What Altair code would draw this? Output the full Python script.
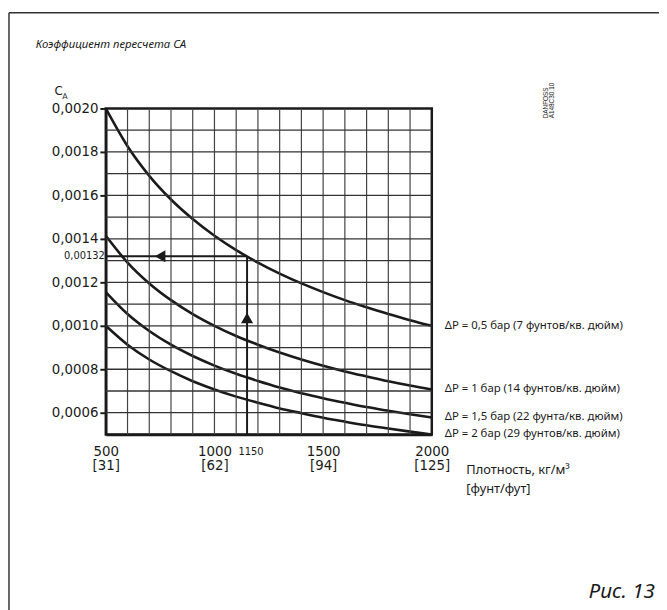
import altair as alt
import pandas as pd

# ---- data ----
density = [500, 600, 700, 800, 900, 1000, 1100, 1200, 1300, 1400, 1500, 1600, 1700, 1800, 1900, 2000]
ca_05 = [0.002000, 0.001826, 0.001690, 0.001581, 0.001491, 0.001414, 0.001348, 0.001291,
         0.001240, 0.001195, 0.001155, 0.001118, 0.001085, 0.001054, 0.001026, 0.001000]
ca_10 = [0.001414, 0.001291, 0.001195, 0.001118, 0.001054, 0.001000, 0.000953, 0.000913,
         0.000877, 0.000845, 0.000816, 0.000790, 0.000767, 0.000745, 0.000725, 0.000707]
ca_15 = [0.001155, 0.001054, 0.000976, 0.000913, 0.000861, 0.000817, 0.000779, 0.000746,
         0.000716, 0.000690, 0.000667, 0.000646, 0.000626, 0.000609, 0.000593, 0.000578]
ca_20 = [0.001000, 0.000913, 0.000845, 0.000791, 0.000745, 0.000707, 0.000674, 0.000646,
         0.000620, 0.000598, 0.000577, 0.000559, 0.000542, 0.000527, 0.000513, 0.000500]
series_names = ["0.5", "1", "1.5", "2"]
series_labels = [
    "\u0394P = 0,5 бар (7 фунтов/кв. дюйм)",
    "\u0394P = 1 бар (14 фунтов/кв. дюйм)",
    "\u0394P = 1,5 бар (22 фунта/кв. дюйм)",
    "\u0394P = 2 бар (29 фунтов/кв. дюйм)",
]
x_tick_values = [500, 1000, 1500, 2000]
x_tick_sub = ["[31]", "[62]", "[94]", "[125]"]
y_tick_values = [0.0006, 0.0008, 0.0010, 0.0012, 0.0014, 0.0016, 0.0018, 0.0020]
grid_x = [600, 700, 800, 900, 1000, 1100, 1200, 1300, 1400, 1500, 1600, 1700, 1800, 1900]
grid_y = [0.0006, 0.0007, 0.0008, 0.0009, 0.0010, 0.0011, 0.0012, 0.0013,
          0.0014, 0.0015, 0.0016, 0.0017, 0.0018, 0.0019]
example_density = 1150
example_ca = 0.00132
arrow_left_x = 750
arrow_up_y = 0.001036

X_DOM = [500, 2000]
Y_DOM = [0.0005, 0.0020]
INK = "#1a1a1a"

rows = []
for name, vals in zip(series_names, [ca_05, ca_10, ca_15, ca_20]):
    for d, v in zip(density, vals):
        rows.append({"density": d, "ca": v, "series": name})
curves_df = pd.DataFrame(rows)

end_df = pd.DataFrame({
    "density": [2000] * 4,
    "ca": [ca_05[-1], ca_10[-1], ca_15[-1], ca_20[-1]],
    "label": series_labels,
})

xs = alt.Scale(domain=X_DOM, nice=False, zero=False)
ys = alt.Scale(domain=Y_DOM, nice=False, zero=False)

x_expr = " : ".join(
    f"datum.value == {v} ? ['{v}', '{s}']" for v, s in zip(x_tick_values, x_tick_sub)
) + " : ''"

x_axis = alt.Axis(values=x_tick_values, labelExpr=x_expr, ticks=False, grid=False,
                  domainColor=INK, domainWidth=2.5, labelFont="DejaVu Sans",
                  labelFontSize=13.5, labelColor=INK, labelPadding=10,
                  labelBaseline="top", labelLineHeight=14, labelFlush=False,
                  labelOverlap=False, title=None)
y_axis = alt.Axis(values=y_tick_values,
                  labelExpr="replace(format(datum.value, '.4f'), '.', ',')",
                  tickSize=6, tickWidth=2, tickColor=INK, grid=False,
                  domainColor=INK, domainWidth=2.5, labelFont="DejaVu Sans",
                  labelFontSize=13.5, labelColor=INK, labelPadding=2,
                  labelOverlap=False, labelFlush=False, title=None)


def X(field):
    return alt.X(field, scale=xs, axis=x_axis)


def Y(field):
    return alt.Y(field, scale=ys, axis=y_axis)


curves = alt.Chart(curves_df).mark_line(color=INK, strokeWidth=2.6, interpolate="monotone").encode(
    x=X("density:Q"), y=Y("ca:Q"), detail="series:N",
)

gx = alt.Chart(pd.DataFrame({"gx": grid_x})).mark_rule(color="#444", strokeWidth=1.2).encode(
    x=X("gx:Q"))
gy = alt.Chart(pd.DataFrame({"gy": grid_y})).mark_rule(color="#333", strokeWidth=1.3).encode(
    y=Y("gy:Q"))

ex_df = pd.DataFrame({"x0": [500], "x1": [example_density], "y0": [Y_DOM[0]], "y1": [example_ca]})
h_rule = alt.Chart(ex_df).mark_rule(color=INK, strokeWidth=2).encode(
    x=X("x0:Q"), x2="x1:Q", y=Y("y1:Q"))
v_rule = alt.Chart(ex_df).mark_rule(color=INK, strokeWidth=2).encode(
    x=X("x1:Q"), y=Y("y0:Q"), y2="y1:Q")

arrows_df = pd.DataFrame({
    "x": [arrow_left_x, example_density],
    "y": [example_ca, arrow_up_y],
    "shape": ["triangle-left", "triangle-up"],
})
arrows = alt.Chart(arrows_df).mark_point(filled=True, color=INK, opacity=1, size=150).encode(
    x=X("x:Q"), y=Y("y:Q"), shape=alt.Shape("shape:N", scale=None))

val_lbl = alt.Chart(pd.DataFrame({"x": [500], "y": [example_ca], "t": ["0,00132"]})).mark_text(
    align="right", baseline="middle", dx=-1, font="DejaVu Sans", fontSize=10, color=INK).encode(
    x=X("x:Q"), y=Y("y:Q"), text="t:N")
dens_lbl = alt.Chart(pd.DataFrame({"x": [example_density], "y": [Y_DOM[0]], "t": ["1150"]})).mark_text(
    align="center", baseline="middle", dx=4, dy=18, font="DejaVu Sans", fontSize=10, color=INK).encode(
    x=X("x:Q"), y=Y("y:Q"), text="t:N")

end_lbls = alt.Chart(end_df).mark_text(
    align="left", baseline="middle", dx=13, font="Noto Sans", fontSize=11.5, color=INK).encode(
    x=X("density:Q"), y=Y("ca:Q"), text="label:N")


def ptext(txt, x, y, **kw):
    return alt.Chart(pd.DataFrame({"t": [txt]})).mark_text(**kw).encode(
        x=alt.value(x), y=alt.value(y), text="t:N")


title = ptext("Коэффициент пересчета CA", -71, -61, align="left", baseline="alphabetic",
              font="Noto Sans", fontStyle="italic", fontSize=11.5, color=INK)
c_lbl = ptext("C", -52, -14, align="left", baseline="alphabetic", font="DejaVu Sans",
              fontSize=12, color=INK)
a_lbl = ptext("A", -44, -10, align="left", baseline="alphabetic", font="DejaVu Sans",
              fontSize=8, color=INK)
xt1 = ptext("Плотность, кг/м³", 365, 370, align="left", baseline="alphabetic",
            font="Noto Sans", fontSize=13, color=INK)
xt2 = ptext("[фунт/фут]", 365, 389, align="left", baseline="alphabetic",
            font="Noto Sans", fontSize=13, color=INK)
fig = ptext("Рис. 13", 556, 496, align="right", baseline="alphabetic",
            font="Noto Sans", fontStyle="italic", fontSize=21, color=INK)
dan1 = ptext("DANFOSS", 448, 10, align="left", baseline="alphabetic", angle=270,
             font="Liberation Sans", fontSize=6.5, color=INK)
dan2 = ptext("A148C30.10", 454, 10, align="left", baseline="alphabetic", angle=270,
             font="Liberation Sans", fontSize=6.5, color=INK)

one = pd.DataFrame({"a": [0]})
frame_top = alt.Chart(one).mark_rule(color="#333", strokeWidth=1.5).encode(
    x=alt.value(-98), x2=alt.value(700), y=alt.value(-97))
frame_left = alt.Chart(one).mark_rule(color="#333", strokeWidth=1.5).encode(
    x=alt.value(-98), y=alt.value(-97), y2=alt.value(700))

chart = alt.layer(
    curves, gx, gy, h_rule, v_rule, arrows, val_lbl, dens_lbl, end_lbls,
    title, c_lbl, a_lbl, xt1, xt2, fig, dan1, dan2, frame_top, frame_left,
).properties(
    width=330, height=330,
    padding={"left": 99, "top": 98, "right": 230, "bottom": 174},
    autosize=alt.AutoSizeParams(type="none"),
).configure(
    background="white",
    view=alt.ViewConfig(stroke=INK, strokeWidth=2.5),
)

chart.save("out.html", embed_options={"renderer": "svg", "actions": False})
